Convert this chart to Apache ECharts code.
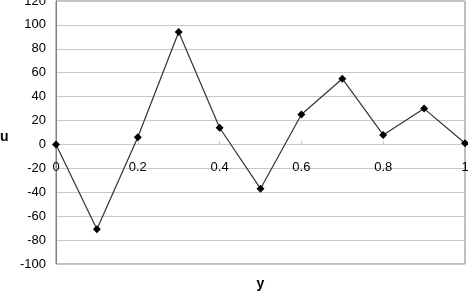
<!DOCTYPE html>
<html><head><meta charset="utf-8">
<script src="https://cdn.jsdelivr.net/npm/echarts@6/dist/echarts.min.js"></script>
<style>html,body{margin:0;padding:0;background:#fff}#c{width:468px;height:291px}</style>
</head><body><div id="c"></div>
<script>
const xValues = [0, 0.1, 0.2, 0.3, 0.4, 0.5, 0.6, 0.7, 0.8, 0.9, 1.0];
const uValues = [0, -71, 6, 94, 14, -37, 25, 55, 8, 30, 1];
const xAxisTitle = 'y';
const yAxisTitle = 'u';

const chart = echarts.init(document.getElementById('c'), null, {renderer: 'canvas'});
const font = 'Liberation Sans, Arial, sans-serif';
chart.setOption({
  animation: false,
  grid: {left: 56, right: 3, top: 1, bottom: 27, show: true, borderColor: '#808080', borderWidth: 1,
    backgroundColor: '#fff', containLabel: false, outerBoundsMode: 'none'},
  graphic: [{
    type: 'text', left: 0, top: 130,
    style: {text: yAxisTitle, fill: '#000', font: 'bold 14px ' + font}
  }],
  xAxis: {
    type: 'value', min: 0, max: 1, interval: 0.2, position: 'bottom', offset: -120,
    axisLine: {show: true, onZero: false, lineStyle: {color: '#c8c8c8', width: 1}},
    axisTick: {show: true, inside: true, length: 3, lineStyle: {color: '#c8c8c8'}},
    splitLine: {show: false},
    axisLabel: {color: '#000', fontSize: 13, fontFamily: font, margin: 17, hideOverlap: false,
      formatter: v => String(Math.round(v * 10) / 10)},
    name: xAxisTitle, nameLocation: 'middle', nameGap: 133,
    nameTextStyle: {fontWeight: 'bold', fontSize: 14, color: '#000', fontFamily: font}
  },
  yAxis: {
    type: 'value', min: -100, max: 120, interval: 20,
    axisLine: {show: true, onZero: false, lineStyle: {color: '#808080'}},
    axisTick: {show: false},
    splitLine: {show: true, lineStyle: {color: '#c8c8c8', width: 1}},
    axisLabel: {color: '#000', fontSize: 13, fontFamily: font, margin: 10, hideOverlap: false,
      showMinLabel: true, showMaxLabel: true}
  },
  series: [{
    type: 'line',
    data: xValues.map((x, i) => [x, uValues[i]]),
    symbol: 'diamond', symbolSize: 8,
    itemStyle: {color: '#000'},
    lineStyle: {color: '#333', width: 1.2},
    clip: false
  }]
});
</script></body></html>
